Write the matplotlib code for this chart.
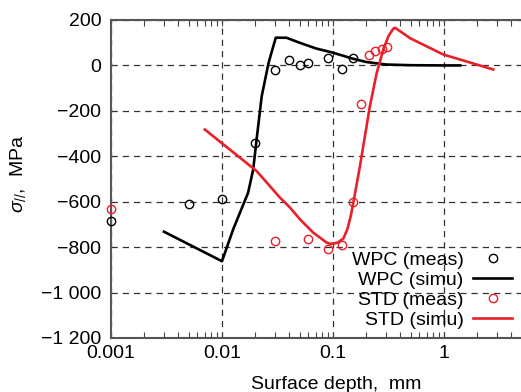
import numpy as np
import matplotlib
matplotlib.use("Agg")
import matplotlib.pyplot as plt
from matplotlib.ticker import LogLocator, NullFormatter

plt.rcParams['font.family'] = ['Liberation Sans', 'DejaVu Sans']
plt.rcParams['mathtext.fontset'] = 'custom'
plt.rcParams['mathtext.rm'] = 'Liberation Sans'
plt.rcParams['mathtext.it'] = 'Liberation Sans:italic'

# mesures WPC
wpc_meas_x = [0.001, 0.005, 0.01, 0.02, 0.03, 0.04, 0.05, 0.06, 0.09, 0.12, 0.15]
wpc_meas_y = [-687, -610, -588, -340, -20, 26, 0, 12, 32, -15, 32]

# simulation WPC
wpc_simu_x = [0.003, 0.01, 0.0126, 0.0172, 0.0191, 0.0205, 0.0228, 0.0263, 0.0305,
              0.038, 0.05, 0.07, 0.1, 0.15, 0.2, 0.3, 0.5, 1.0, 1.4]
wpc_simu_y = [-732, -862, -722, -560, -458, -326, -135, 12, 122,
              122, 100, 75, 56, 30, 15, 4, 1, 0, 0]

# mesures STD
std_meas_x = [0.001, 0.03, 0.06, 0.09, 0.12, 0.15, 0.18, 0.21, 0.24, 0.275, 0.305]
std_meas_y = [-631, -773, -766, -806, -791, -602, -172, 48, 63, 73, 82]

# simulation STD
std_simu_x = [0.0070, 0.0205, 0.0333, 0.041, 0.0505, 0.0663, 0.0877, 0.0923, 0.1,
              0.11, 0.124, 0.135, 0.145, 0.153, 0.175, 0.194, 0.215, 0.248, 0.284,
              0.316, 0.350, 0.362, 0.494, 0.986, 2.78]
std_simu_y = [-282, -465, -582, -626, -678, -736, -780, -784, -785,
              -780, -762, -720, -660, -600, -443, -311, -179, -32, 70,
              129, 162, 166, 120, 48, -18]

y_ticks = [200, 0, -200, -400, -600, -800, -1000, -1200]
y_labels = ['200', '0', '\u2212200', '\u2212400', '\u2212600', '\u2212800',
            '\u22121 000', '\u22121 200']
x_ticks = [0.001, 0.01, 0.1, 1]
x_labels = ['0.001', '0.01', '0.1', '1']

red = '#e8202a'
fs = 14

fig = plt.figure(figsize=(5.21, 3.92), dpi=100)
ax = fig.add_axes([111/521, 1 - 338/392, 410/521, 318/392])

ax.plot(wpc_meas_x, wpc_meas_y, 'o', mfc='none', mec='black', ms=6, mew=1.0,
        label='WPC (meas)', clip_on=False, zorder=4)
ax.plot(wpc_simu_x, wpc_simu_y, '-', color='black', lw=1.9, label='WPC (simu)', zorder=3)
ax.plot(std_meas_x, std_meas_y, 'o', mfc='none', mec=red, ms=6, mew=1.0,
        label='STD (meas)', clip_on=False, zorder=4)
ax.plot(std_simu_x, std_simu_y, '-', color=red, lw=1.9, label='STD (simu)', zorder=3)

ax.set_xscale('log')
ax.set_xlim(0.001, 4.94)
ax.set_ylim(-1200, 200)

ax.set_xticks(x_ticks)
ax.set_xticklabels(x_labels, fontsize=fs)
ax.xaxis.set_minor_locator(LogLocator(base=10, subs=np.arange(2, 10)))
ax.xaxis.set_minor_formatter(NullFormatter())
ax.set_yticks(y_ticks)
ax.set_yticklabels(y_labels, fontsize=fs)

ax.tick_params(axis='x', which='both', direction='in', top=True, bottom=True,
               length=4, width=0.8, color='#444444', pad=5)
ax.tick_params(axis='y', which='both', length=0, pad=7)

for s in ['left', 'top', 'bottom']:
    ax.spines[s].set_color('#555555')
    ax.spines[s].set_linewidth(1.5)
ax.spines['right'].set_visible(False)

ax.grid(True, which='major', linestyle=(0, (5, 4)), color='#333333', linewidth=0.9)

leg = ax.legend(loc='lower right', bbox_to_anchor=(512/521, 1 - 329/392),
                bbox_transform=fig.transFigure, frameon=False, markerfirst=False,
                fontsize=fs, handlelength=2.0, handletextpad=0.5,
                labelspacing=0.12, borderpad=0, borderaxespad=0)

fig.text(336/521, 1 - 389/392, 'Surface depth,  mm', fontsize=fs,
         ha='center', va='baseline')
fig.text(18/521, 1 - 174/392, r'$\sigma_{//}$,  MPa', fontsize=fs,
         rotation=90, ha='center', va='center')

fig.savefig('out.png', dpi=100)
